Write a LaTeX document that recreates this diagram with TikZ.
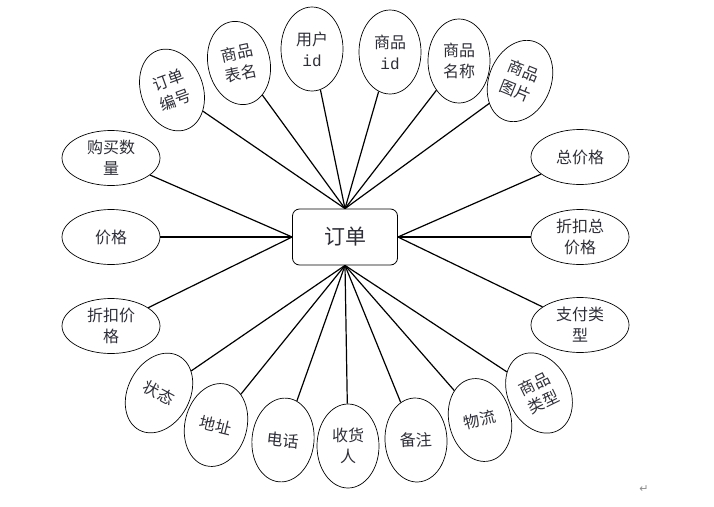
\documentclass[tikz,border=0pt]{standalone}
\usepackage{fontspec}
\setmainfont{Noto Sans CJK SC}
\newfontfamily\idfont{Liberation Mono}
\newfontfamily\markfont{DejaVu Sans}
\usetikzlibrary{shapes.geometric}
\definecolor{textgray}{HTML}{2E2E38}

\begin{document}
\begin{tikzpicture}[
    x=1pt, y=-1pt,
    entity/.style={rectangle, rounded corners=7pt, draw, line width=0.8pt,
        minimum width=105pt, minimum height=56pt, text=textgray,
        font=\fontsize{21}{24}\selectfont},
    attr/.style={ellipse, draw, line width=0.7pt, inner sep=0pt,
        minimum width=62pt, minimum height=84pt, align=center, text=textgray,
        font=\fontsize{16}{21}\selectfont},
    wide/.style={attr, minimum width=98pt, minimum height=55pt},
    link/.style={line width=1.2pt}
]
    \useasboundingbox (0,0) rectangle (714,506);

    % entity
    \node[entity] (order) at (345,237) {订单};

    % top attributes
    \node[attr, rotate=20] (ddbh) at (172,90) {订单\\编号};
    \node[attr, rotate=12] (spbm) at (239,63) {商品\\表名};
    \node[attr] (yhid) at (312,49) {用户\\{\idfont id}};
    \node[attr] (spid) at (390,52) {商品\\{\idfont id}};
    \node[attr] (spmc) at (459,61) {商品\\名称};
    \node[attr, rotate=-22] (sptp) at (520,81) {商品\\图片};

    % left attributes
    \node[wide] (gmsl) at (111,158) {购买数\\量};
    \node[wide] (jg) at (111,237) {价格};
    \node[wide] (zkjg) at (111,326) {折扣价\\格};

    % right attributes
    \node[wide] (zjg) at (580,157) {总价格};
    \node[wide] (zkzjg) at (580,237) {折扣总\\价格};
    \node[wide] (zflx) at (580,325) {支付类\\型};

    % bottom attributes
    \node[attr, rotate=-28] (zt) at (159,393) {状态};
    \node[attr, rotate=-14] (dz) at (216,425) {地址};
    \node[attr, rotate=-6] (dh) at (283,440) {电话};
    \node[attr] (shr) at (348,446) {收货\\人};
    \node[attr, rotate=3] (bz) at (416,440) {备注};
    \node[attr, rotate=14] (wl) at (480,420) {物流};
    \node[attr, rotate=26] (splx) at (539,393) {商品\\类型};

    % connectors
    \foreach \n in {ddbh, spbm, yhid, spid, spmc, sptp}
        \draw[link] (order.north) -- (\n);
    \foreach \n in {gmsl, jg, zkjg}
        \draw[link] (order.west) -- (\n);
    \foreach \n in {zjg, zkzjg, zflx}
        \draw[link] (order.east) -- (\n);
    \foreach \n in {zt, dz, dh, shr, bz, wl, splx}
        \draw[link] (order.south) -- (\n);

    % paragraph mark
    \node[text=black!45, font=\markfont\fontsize{11}{11}\selectfont] (pmark) at (644,489) {↵};
\end{tikzpicture}
\end{document}
